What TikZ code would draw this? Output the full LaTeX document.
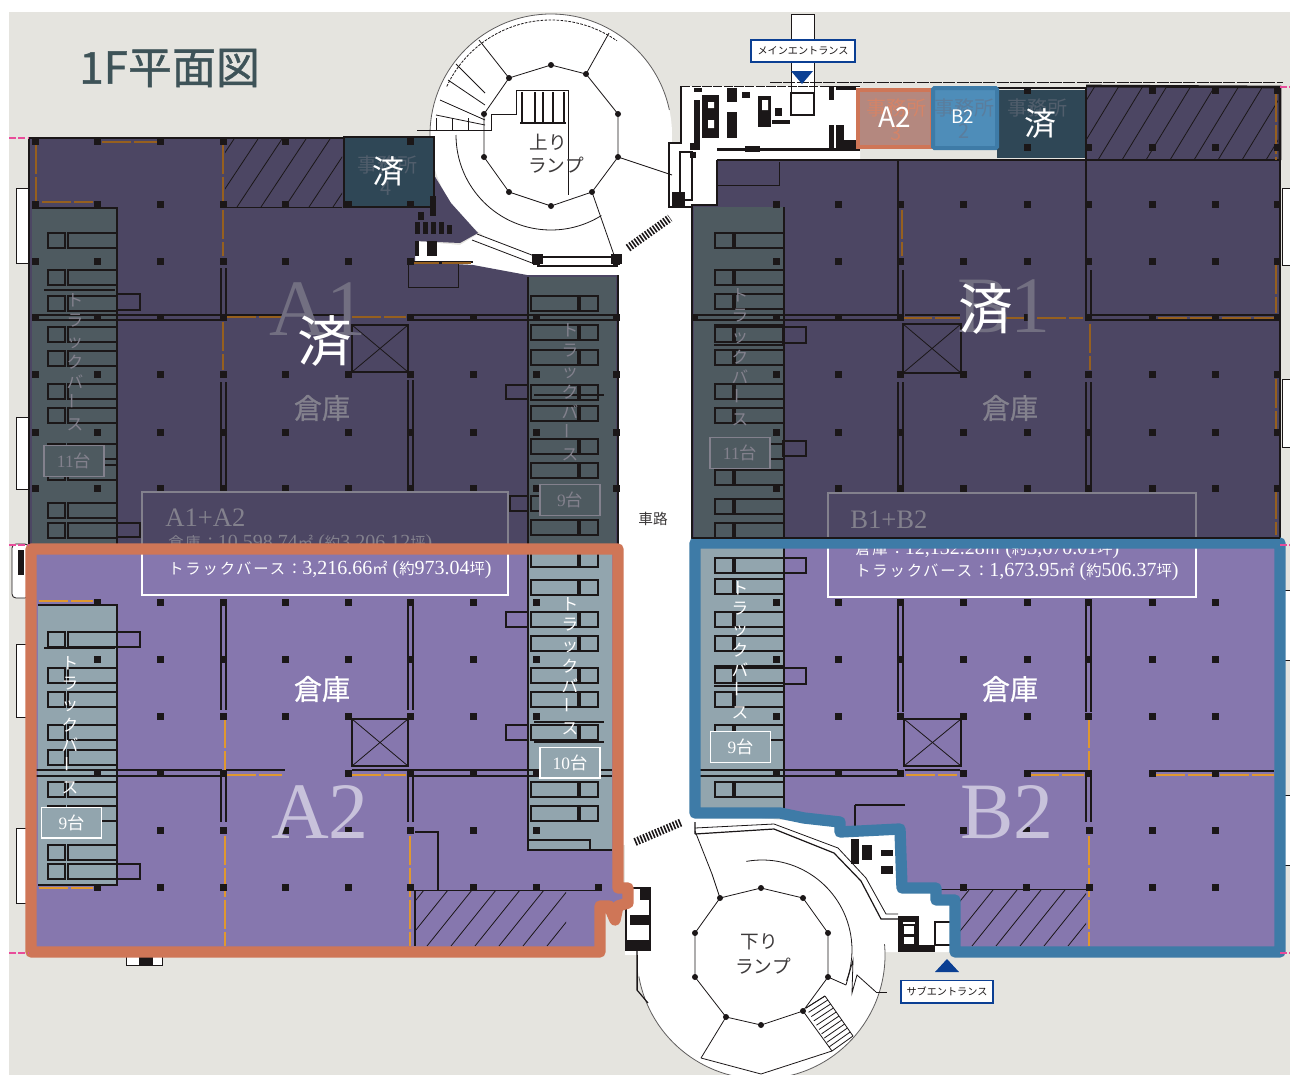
\documentclass[tikz,border=0pt]{standalone}
\usepackage{fontspec}
\setmainfont{Liberation Serif}
\newfontfamily\cjk{Noto Sans CJK JP}
\newfontfamily\cjkheavy[FakeBold=0.9]{Noto Sans CJK JP}
\newfontfamily\cjkwide[LetterSpace=12]{Noto Sans CJK JP}
\definecolor{paper}{HTML}{E5E4DF}
\definecolor{darkplum}{HTML}{4C4663}
\definecolor{darkbay}{HTML}{4E5A60}
\definecolor{lightplum}{HTML}{8677AE}
\definecolor{lightbay}{HTML}{92A5AE}
\definecolor{teal}{HTML}{2F4756}
\definecolor{rust}{HTML}{CF7657}
\definecolor{steel}{HTML}{3E7BA7}
\definecolor{rustfill}{HTML}{B4887F}
\definecolor{steelfill}{HTML}{4E8DB9}
\definecolor{ink}{HTML}{1B1718}
\definecolor{titleink}{HTML}{3E5358}
\definecolor{dimtext}{HTML}{83818D}
\definecolor{amberdark}{HTML}{96601F}
\definecolor{amberlight}{HTML}{E0982F}
\definecolor{navy}{HTML}{0B3F93}
\definecolor{pinkmark}{HTML}{E84C9A}
\usetikzlibrary{shapes.geometric}
% ring of columns, hatch, bays
\newcommand{\hatchzone}[4]{
  \begin{scope}
    \clip (#1,#2) rectangle (#3,#4);
    \foreach \hx in {-60,-36,...,300}
      \draw[thinline] ({#1+\hx},#4) -- ({#1+\hx+45},#2);
  \end{scope}}
\newcommand{\truckword}{ト\\ラ\\ッ\\ク\\バ\\\rotatebox{90}{ー}\\ス}
\newcommand{\kanjismall}[1]{{\cjk\fontsize{11.5}{11.5}\selectfont #1}}
\newcommand{\kanjiwide}[1]{{\cjkwide\fontsize{11.5}{11.5}\selectfont #1}}
\begin{document}
\begin{tikzpicture}[x=0.75pt,y=-0.75pt,
    thinline/.style = {draw=ink,line width=0.6pt},
    wallline/.style = {draw=ink,line width=0.9pt},
    heavyline/.style = {draw=ink,line width=2pt},
    baybox/.style = {draw=ink,line width=0.8pt},
    amberD/.style = {draw=amberdark,line width=1.2pt,dash pattern=on 22pt off 2pt},
    amberL/.style = {draw=amberlight,line width=1.2pt,dash pattern=on 22pt off 2pt},
    colmark/.style = {fill=ink},
    rimline/.style = {line width=8.5pt,line join=round,line cap=round},
    plandot/.style = {draw=ink,line width=6pt,dash pattern=on 1.2pt off 1.2pt},
    roomname/.style = {font=\cjkheavy\fontsize{21}{21}\selectfont},
    unitname/.style = {font=\fontsize{60}{60}\selectfont},
    soldmark/.style = {font=\cjk\fontsize{41}{41}\selectfont,text=white},
    soldsmall/.style = {font=\cjk\fontsize{24}{24}\selectfont,text=white},
    berthname/.style = {font=\cjk\fontsize{12.5}{15.5}\selectfont,align=center,inner sep=0pt},
    countbox/.style = {draw,line width=1pt,minimum width=45pt,minimum height=23pt,inner sep=0pt,
      font=\fontsize{13}{13}\selectfont},
    gatebox/.style = {draw=navy,fill=white,line width=1pt,text=ink,inner sep=0pt,
      font=\cjk\fontsize{7.6}{8}\selectfont},
    officename/.style = {font=\cjk\fontsize{15}{15}\selectfont},
    arealine/.style = {font=\fontsize{15}{15}\selectfont,anchor=west,inner sep=0pt},
  ]
  \useasboundingbox (0,0) rectangle (1290,1075);
  \fill[white] (0,0) rectangle (1290,1075);
  \fill[paper] (9,12) rectangle (1290,1075);

  % ground floor white outline
  \fill[white] (610,150) rectangle (700,845);
  \fill[white] (625,840) rectangle (700,955);
  \fill[white] (669,143) -- (681,143) -- (681,86) -- (860,86) -- (860,165) -- (717,165) -- (717,210) -- (669,210) -- cycle;
  \fill[white] (791,14) rectangle (814,90);
  \fill[white] (478,234) -- (460,245) -- (415,241) -- (415,262) -- (473,265) -- (527,276) -- (620,276) -- (620,225) -- (551,256) -- cycle;
  \fill[white] (690,812) -- (840,825) -- (905,825) -- (905,885) -- (960,895) -- (960,952) -- (880,952) -- (761,900) -- (700,880) -- cycle;
  \foreach \ry/\rh in {188/75,417/72,644/73,828/75}
    \draw[thinline,fill=white] (16,\ry) rectangle (29,{\ry+\rh});
  \draw[thinline,fill=white,rounded corners=3pt] (12,544) rectangle (29,598);
  \fill[ink] (18,550) rectangle (24,575);
  \foreach \ry/\rh in {188/77,379/68,590/70,795/70}
    \draw[thinline,fill=white] (1282,\ry) rectangle (1292,{\ry+\rh});
  \draw[thinline,fill=white] (126,950) rectangle (162,965);
  \fill[ink] (139,952) rectangle (153,965);

  % upper ramp
  \fill[white] (551,135) circle (121);
  \draw[draw=ink!70,line width=0.6pt] (551,135) ++(172:121) arc (172:348:121);
  \draw[draw=ink,line width=0.6pt,dash pattern=on 2pt off 1pt] (551,135) ++(205:115) arc (205:305:115);
  \draw[thinline] (551,135) ++(180:95) arc (180:58:95);
  \foreach \ax/\ay/\bx/\by in {509/78/479/40,586/74/609/33,618/157/672/175,592/192/614/255,
      456/64/485/93,448/80/485/105,440/100/485/120,436/115/485/125}
    \draw[thinline] (\ax,\ay) -- (\bx,\by);
  \draw[thinline] (509,78) -- (551,65) -- (586,74) -- (618,114) -- (618,157) -- (592,192) -- (551,206) -- (509,192) -- (484,157) -- (484,114) -- cycle;
  \foreach \rx/\ry in {551/65,586/74,618/114,618/157,592/192,551/206,509/192,484/157,484/114,509/78}
    \fill[colmark] (\rx,\ry) circle (3);
  \draw[thinline] (417,130) -- (491,130) -- (491,114) -- (516,114) -- (516,90) -- (568,90) -- (568,195);
  \foreach \rx in {522,535,543,553,564}
    \draw[wallline] (\rx,92) -- (\rx,123);
  \draw[wallline] (520,123) -- (566,123);
  \foreach \rx in {436,452,468}
    \draw[thinline] (\rx,118) -- (\rx,130);
  \draw[thinline] (477,234) -- (537,257) (472,240) -- (532,263);
  \draw[wallline] (537,257) -- (618,257) (537,266) -- (618,266);
  \fill[colmark] (532,254) rectangle (543,264);
  \fill[colmark] (611,254) rectangle (622,264);
  \node[font=\cjk\fontsize{14}{14}\selectfont,text=ink!85] (upramp) at (548,142) {上り};
  \node[font=\cjk\fontsize{14}{14}\selectfont,text=ink!85] (upramptwo) at (556,165) {ランプ};
  \draw[plandot] (628,248) -- (670,218);

  % entrance block
  \draw[thinline,dash pattern=on 9pt off 1pt] (770,82) -- (1283,82);
  \draw[thinline,dash pattern=on 7pt off 1pt] (681,86) -- (860,86);
  \draw[wallline] (681,86) -- (681,143) -- (669,143) -- (669,207) -- (692,207);
  \draw[thinline] (791,14) rectangle (814,93);
  \draw[wallline] (791,93) rectangle (814,115);
  \draw[wallline] (717,160) -- (856,160);
  \foreach \ax/\ay/\bx/\by in {702/95/719/138,727/88/737/102,727/112/737/138,758/96/771/127,
      829/86/834/100,829/125/834/148,717/148/860/151,690/143/700/150,672/192/685/207,
      745/146/760/152,836/86/856/90,836/140/856/148,836/125/844/140,694/88/702/92,694/100/700/148,
      742/92/750/98,775/108/782/116,772/120/790/124,690/152/696/158}
    \fill[ink] (\ax,\ay) rectangle (\bx,\by);
  \fill[white] (708,102) rectangle (714,108) (708,120) rectangle (714,128) (762,100) rectangle (768,110);
  \draw[wallline] (680,152) rectangle (692,200);
  \draw[plandot] (635,842) -- (682,822);
  \fill[navy] (791,71) -- (813,71) -- (802,84) -- cycle;
  \node[gatebox,minimum width=78pt,minimum height=16.5pt] (maingate) at (803,51) {メインエントランス};

  % lower ramp
  \fill[white] (761,955) circle (124);
  \begin{scope}
    \clip (0,0) rectangle (1290,1075);
    \draw[draw=ink!70,line width=0.6pt] (761,955) ++(-5:124) arc (-5:170:124);
    \draw[thinline] (762,950) ++(-100:90) arc (-100:20:90);
    \foreach \ax/\ay/\bx/\by in {695/831/712/874,712/874/720/898,803/1011/832/1051,726/1017/701/1058,
        701/1058/761/1074,761/1074/832/1051,828/977/846/985,876/992/887/992,806/1008/825/996,
        825/996/853/1036,853/1036/832/1051,637/955/637/990}
      \draw[thinline] (\ax,\ay) -- (\bx,\by);
    \draw[thinline] (846,985) -- (853,960) -- (852,993) -- (857,975) -- (876,992);
    \foreach \rt in {0,0.1,...,1}
      \draw[thinline] ({806+\rt*26},{1008+\rt*43}) -- ({825+\rt*28},{996+\rt*40});
  \end{scope}
  \draw[thinline] (761,888) -- (803,898) -- (828,933) -- (828,977) -- (803,1011) -- (761,1025) -- (726,1017) -- (695,977) -- (695,933) -- (720,898) -- cycle;
  \foreach \rx/\ry in {761/888,803/898,828/933,828/977,803/1011,761/1025,726/1017,695/977,695/933,720/898}
    \fill[colmark] (\rx,\ry) circle (3);
  \draw[wallline] (695,822) -- (695,834) (695,834) -- (774,829) -- (834,853) -- (861,881) -- (881,919) -- (898,919);
  \draw[thinline] (695,828) -- (774,824) -- (838,848) -- (866,878) -- (886,914) -- (898,914);
  \foreach \ax/\ay/\bx/\by in {851/839/859/864,862/845/872/860,881/850/893/856,881/866/893/874,
      898/916/919/922,898/945/935/952,898/922/903/945,915/922/919/945,626/888/632/900,626/940/650/950,
      640/888/650/900,630/915/650/925}
    \fill[ink] (\ax,\ay) rectangle (\bx,\by);
  \draw[wallline] (903,925) rectangle (915,935) (903,936) rectangle (915,945);
  \draw[wallline] (935,922) rectangle (955,945);
  \draw[wallline] (626,888) rectangle (650,950);
  \draw[wallline] (637,950) -- (637,990) -- (648,1003);
  \node[font=\cjk\fontsize{14}{14}\selectfont,text=ink!85] (downramp) at (759,942) {下り};
  \node[font=\cjk\fontsize{14}{14}\selectfont,text=ink!85] (downramptwo) at (763,966) {ランプ};
  \fill[navy] (947,959) -- (935,972) -- (959,972) -- cycle;
  \node[gatebox,minimum width=69pt,minimum height=17pt] (subgate) at (947,991.5) {サブエントランス};
  \node[font=\cjk\fontsize{11}{11}\selectfont,text=ink!85] (roadway) at (653,519) {車路};

  % unit floors
  \fill[darkplum] (30,138) -- (434,138) -- (434,175) -- (451,203) -- (478,233) -- (460,243) -- (415,241) -- (415,262) -- (473,265) -- (527,275) -- (618,275) -- (618,545) -- (30,545) -- cycle;
  \fill[darkbay] (32,208) rectangle (117,545);
  \fill[darkbay] (528,277) rectangle (616,545);
  \fill[darkplum] (717,160) -- (1280,160) -- (1280,540) -- (692,540) -- (692,205) -- (717,205) -- cycle;
  \fill[darkplum] (1086,86) rectangle (1280,160);
  \fill[darkbay] (694,207) rectangle (784,540);
  \fill[lightplum] (31,549) -- (618,549) -- (618,888) -- (628,888) -- (628,903) -- (617,906) -- (615,920) -- (609,906) -- (600,906) -- (600,952) -- (31,952) -- cycle;
  \fill[lightbay] (38,605) rectangle (117,885);
  \fill[lightbay] (528,549) rectangle (612,850);
  \fill[lightplum] (695,543) -- (1280,543) -- (1280,952) -- (955,952) -- (955,900) -- (936,900) -- (936,888) -- (902,888) -- (900,829) -- (840,832) -- (840,822) -- (804,818) -- (780,813) -- (695,813) -- cycle;
  \fill[lightbay] (698,548) rectangle (784,808);

  % hatched zones
  \hatchzone{225}{139}{342}{207}
  \hatchzone{1086}{86}{1278}{160}
  \hatchzone{415}{890}{566}{946}
  \hatchzone{960}{890}{1086}{946}
  \draw[thinline] (225,207) -- (342,207) (415,890) -- (595,890) (940,889) -- (1086,889);

  % offices
  \fill[teal] (344,137) rectangle (434,207);
  \draw[heavyline] (344,137) rectangle (434,207);
  \fill[teal] (997,90) rectangle (1086,158);
  \draw[heavyline] (997,88) -- (1086,88) -- (1086,160) -- (997,160);
  \draw[heavyline] (1086,86) -- (1280,87) -- (1280,160);
  \draw[heavyline] (29,138) -- (344,138) (29,138) -- (29,545);
  \draw[heavyline] (717,160) -- (1280,160) -- (1280,538) (717,160) -- (717,205) -- (692,205) -- (692,540) (618,275) -- (618,545);
  \draw[heavyline] (898,160) -- (898,270) (1086,160) -- (1086,270);
  \draw[thinline] (779,162) -- (779,185) -- (717,185);
  \fill[rustfill,draw=rust,line width=3pt] (858,90) rectangle (932,147);
  \fill[steelfill,draw=steel,line width=3pt,rounded corners=1pt] (933,88) rectangle (997,148);
  \foreach \ax/\ay/\bx/\by in {408/261/473/263,427/241/437/256,415/241/419/256,
      415/222/420/234,423/222/428/234,431/222/436/234,439/222/444/234,447/225/452/234,418/212/424/220,430/196/436/216}
    \fill[ink] (\ax,\ay) rectangle (\bx,\by);
  \draw[thinline] (408,263) rectangle (458,287);

  % truck berths, left column of the A block
  \foreach \rowy in {233,270,296,327,351,384,408,444,465,503,523,632,668,692,725,750,782,806,845,864}{
    \draw[baybox] (48,\rowy) rectangle (65,{\rowy+15});
    \draw[baybox] (68,\rowy) rectangle (117,{\rowy+15});}
  \foreach \rowy in {296,325,350,385,406,439,463,496,520,552,580,612,636,668,692,725,782,806}{
    \draw[baybox] (531,\rowy) rectangle (578,{\rowy+15});
    \draw[baybox] (580,\rowy) rectangle (598,{\rowy+15});}
  \foreach \rowy in {233,270,294,327,350,384,408,444,470,499,523,558,579,612,636,668,692,725,782}{
    \draw[baybox] (715,\rowy) rectangle (733,{\rowy+15});
    \draw[baybox] (735,\rowy) rectangle (784,{\rowy+15});}
  \foreach \ax/\ay/\bx/\by in {117/294/140/310,117/523/140/537,117/632/140/647,117/864/140/879,
      506/385/528/399,510/496/528/511,506/612/528/627,506/725/528/740,
      783/327/806/343,783/441/806/456,784/558/806/573,784/668/806/684}
    \draw[baybox] (\ax,\ay) rectangle (\bx,\by);
  \foreach \ax/\bx/\hy in {44/115/290,44/115/648,534/604/395,534/604/722,534/604/742,714/784/325,714/784/345,714/784/666,714/784/686}
    \draw[ink,line width=1.6pt] (\ax,\hy) -- (\bx,\hy);
  \draw[baybox] (32,208) -- (117,208) -- (117,545) (38,605) -- (117,605) -- (117,885) -- (38,885);
  \draw[baybox] (528,277) -- (528,545) (528,549) -- (528,850) -- (612,850);
  \draw[baybox] (784,207) -- (784,540) (784,548) -- (784,808);
  \draw[baybox] (528,840) -- (590,840) -- (590,850);

  % partition walls
  \foreach \wx/\wa/\wb in {221/268/315,226/268/315,221/382/488,226/382/488,221/600/710,226/600/710,221/775/822,226/775/822,
      408/380/488,413/380/488,408/600/710,413/600/710,408/775/822,413/775/822,
      898/270/315,903/270/315,898/382/488,903/382/488,898/600/712,903/600/712,
      1086/270/315,1091/270/315,1086/382/488,1091/382/488,1086/600/712,1091/600/712,1086/775/822,1091/775/822}
    \draw[wallline] (\wx,\wa) -- (\wx,\wb);
  \foreach \wy/\wa/\wb in {315/35/222,320/35/222,315/410/616,320/410/616,770/35/222,776/35/222,770/410/612,776/410/612,
      315/692/898,320/692/898,315/1088/1278,320/1088/1278,770/698/898,776/698/898,315/225/345,315/905/960}
    \draw[wallline] (\wa,\wy) -- (\wb,\wy);
  \draw[heavyline] (225,770) -- (285,770) (352,770) -- (410,770);
  \draw[heavyline] (905,770) -- (960,770) (1030,771) -- (1086,771) (1152,771) -- (1274,771);
  \draw[wallline] (415,832) -- (438,832) -- (438,890) (415,890) -- (415,946);
  \draw[wallline] (855,805) -- (905,805) (855,805) -- (855,830);

  % lift shafts
  \foreach \ax/\ay/\bx/\by in {352/325/408/372,352/719/408/766,903/324/961/373,904/719/961/766}{
    \draw[wallline] (\ax,\ay) rectangle (\bx,\by);
    \draw[thinline] (\ax,\ay) -- (\bx,\by) (\ax,\by) -- (\bx,\ay);}

  % amber partitions
  \foreach \ax/\ay/\bx/\by in {102/142/158/142,36/145/36/201,42/202/93/202,223/145/223/203,223/210/223/256,
      227/317/282/317,352/317/406/317,223/322/223/370,410/263/473/263,902/210/902/256,1090/324/1090/370,
      903/318/960/318,1005/318/1083/318,1158/318/1274/318,1276/93/1276/160,1276/265/1276/313,1276/379/1276/430,1276/490/1276/535}
    \draw[amberD] (\ax,\ay) -- (\bx,\by);
  \foreach \ax/\ay/\bx/\by in {39/601/93/601,39/888/93/888,225/719/225/770,225/836/225/946,227/775/282/775,352/775/406/775,
      410/836/410/946,1089/719/1089/770,1089/836/1089/946,906/775/957/775,1030/775/1084/775,1156/775/1274/775}
    \draw[amberL] (\ax,\ay) -- (\bx,\by);

  % columns, A block
  \foreach \cy/\xlist in {141/{35,97,160,223,285,410},204/{35,97,160,223,285,348,410},261/{35,97,160,223,285,348,410,536,616},
      317/{35,97,160,223,410,473,536,616},374/{35,97,160,223,285,348,410,473,536,616},432/{35,97,160,223,285,348,410,473,536,616},
      488/{35,97,160,223,285,348,410,473,536,616},602/{97,160,223,285,348,410,473,536},659/{97,160,223,285,348,410,473,536},
      716/{160,223,285,348,410,473,536},773/{97,160,223,348,410,473,536},830/{160,223,285,348,410,473,536},
      887/{97,160,223,285,348,410,473,536,598}}
    \foreach \cx in \xlist
      \fill[colmark] ({\cx-3.5},{\cy-3.5}) rectangle ({\cx+3.5},{\cy+3.5});
  % columns, B block
  \foreach \cy/\xlist in {90/{1027,1152,1215,1277},147/{1027,1088,1152,1215,1277},204/{776,838,900,963,1027,1088,1152,1215,1277},
      261/{776,838,900,963,1027,1088,1152,1215,1277},317/{694,776,838,900,1027,1088,1152,1215,1277},
      374/{776,838,900,963,1027,1088,1152,1215,1277},432/{776,838,900,963,1027,1088,1152,1215,1277},
      488/{776,838,900,963,1027,1088,1152,1215,1277},602/{776,838,900,963,1027,1088,1152,1215},
      659/{776,838,900,963,1027,1088,1152,1215},716/{776,838,900,963,1027,1088,1152,1215},
      773/{776,838,900,963,1027,1088,1152,1215},830/{963,1026,1089,1152,1215},887/{963,1026,1089,1152,1215}}
    \foreach \cx in \xlist
      \fill[colmark] ({\cx-3.5},{\cy-3.5}) rectangle ({\cx+3.5},{\cy+3.5});

  % area panels
  \draw[draw=dimtext,line width=1.6pt] (142,545) -- (142,492) -- (508,492) -- (508,545);
  \draw[draw=white,line width=1.6pt] (142,548) -- (142,595) -- (508,595) -- (508,548);
  \draw[draw=dimtext,line width=1.6pt] (828,540) -- (828,493) -- (1196,493) -- (1196,540);
  \draw[draw=white,line width=1.6pt] (828,544) -- (828,597) -- (1196,597) -- (1196,544);
  \fill[darkplum] (143,493) rectangle (507,545);
  \fill[darkplum] (829,494) rectangle (1195,540);
  \fill[lightplum] (143,550) rectangle (507,594);
  \fill[lightplum] (829,545) rectangle (1195,596);
  \node[arealine,text=dimtext,font=\fontsize{20}{20}\selectfont] (panelAtitle) at (165,518) {A1+A2};
  \node[arealine,text=dimtext,font=\fontsize{20}{20}\selectfont] (panelBtitle) at (850,520) {B1+B2};
  \node[arealine,text=dimtext] (panelAstore) at (168,544) {\kanjiwide{倉庫：}10,598.74\kanjismall{㎡} (\kanjismall{約}3,206.12\kanjismall{坪})};
  \node[arealine,text=white] (panelAberth) at (168,570) {\kanjiwide{トラックバース：}3,216.66\kanjismall{㎡} (\kanjismall{約}973.04\kanjismall{坪})};
  \node[arealine,text=white] (panelBstore) at (855,550) {\kanjiwide{倉庫：}12,132.28\kanjismall{㎡} (\kanjismall{約}3,670.01\kanjismall{坪})};
  \node[arealine,text=white] (panelBberth) at (855,572) {\kanjiwide{トラックバース：}1,673.95\kanjismall{㎡} (\kanjismall{約}506.37\kanjismall{坪})};

  % unit labels
  \node[unitname,text=dimtext!70!darkplum] (unitAone) at (318,309) {A1};
  \node[unitname,text=dimtext!70!darkplum] (unitBone) at (1004,306) {B1};
  \node[unitname,text=lightplum!45!white] (unitAtwo) at (320,812) {A2};
  \node[unitname,text=lightplum!45!white] (unitBtwo) at (1007,812) {B2};
  \node[roomname,text=dimtext] (storeAone) at (322,408) {倉庫};
  \node[roomname,text=dimtext] (storeBone) at (1010,408) {倉庫};
  \node[roomname,text=white] (storeAtwo) at (322,689) {倉庫};
  \node[roomname,text=white] (storeBtwo) at (1010,689) {倉庫};
  \node[soldmark] (soldAone) at (325,341) {済};
  \node[soldmark] (soldBone) at (986,309) {済};

  \node[officename,text=teal!60!dimtext] (officeFour) at (387,165) {事務所};
  \node[officename,text=teal!60!dimtext] (officeOne) at (1037,108) {事務所};
  \node[officename,text=rust!90!white] (officeThree) at (896,108) {事務所};
  \node[officename,text=steel!60!dimtext] (officeTwo) at (964,108) {事務所};
  \node[officename,text=rust!90!white] (numThree) at (896,133) {3};
  \node[officename,text=steel!60!dimtext] (numTwo) at (964,131) {2};
  \node[officename,text=teal!60!dimtext] (numFour) at (386,188) {4};
  \node[soldsmall] (soldOfficeFour) at (388,171) {済};
  \node[soldsmall] (soldOfficeOne) at (1040,123) {済};
  \node[font=\cjk\fontsize{21}{21}\selectfont,text=white] (unitOfficeA) at (895,117) {A2};
  \node[font=\cjk\fontsize{14}{14}\selectfont,text=white] (unitOfficeB) at (963,117) {B2};

  \node[berthname,text=dimtext] (berthAL) at (75,362) {\truckword};
  \node[berthname,text=dimtext] (berthAR) at (570,392) {\truckword};
  \node[berthname,text=dimtext] (berthBU) at (740,357) {\truckword};
  \node[berthname,text=white] (berthCL) at (70,725) {\truckword};
  \node[berthname,text=white] (berthCR) at (570,666) {\truckword};
  \node[berthname,text=white] (berthBL) at (740,650) {\truckword};

  \node[countbox,draw=dimtext,fill=darkbay,text=dimtext] (countAL) at (74,461) {11{\cjk 台}};
  \node[countbox,draw=dimtext,fill=darkbay,text=dimtext] (countAR) at (570,500) {9{\cjk 台}};
  \node[countbox,draw=dimtext,fill=darkbay,text=dimtext] (countBU) at (740,453) {11{\cjk 台}};
  \node[countbox,draw=white,fill=lightbay,text=white] (countCR) at (570,762.5) {10{\cjk 台}};
  \node[countbox,draw=white,fill=lightbay,text=white] (countCL) at (71.5,822.5) {9{\cjk 台}};
  \node[countbox,draw=white,fill=lightbay,text=white] (countBL) at (740.5,747) {9{\cjk 台}};

  % unit rims
  \draw[rimline,draw=rust] (31,549) -- (618,549) -- (618,888) -- (628,888) -- (628,903) -- (618,906) -- (615,920) -- (609,906) -- (600,906) -- (600,952) -- (31,952) -- cycle;
  \draw[rimline,draw=steel] (695,543) -- (1280,543) -- (1280,952) -- (955,952) -- (955,900) -- (936,900) -- (936,888) -- (902,888) -- (900,829) -- (840,832) -- (840,822) -- (804,818) -- (780,813) -- (695,813) -- cycle;
  \draw[draw=ink,line width=1pt] (692,538) -- (1280,538);

  % survey ticks
  \foreach \ax/\ay/\bx/\by in {9/138/29/138,9/545/29/545,9/953/29/953,1280/87/1290/87,1280/545/1290/545,1280/953/1290/953}
    \draw[draw=pinkmark,line width=1.5pt,dash pattern=on 5pt off 2pt] (\ax,\ay) -- (\bx,\by);

  \node[font=\cjkheavy\fontsize{33}{33}\selectfont,text=titleink,anchor=west,inner sep=0pt] (planTitle) at (79,68) {1F平面図};
\end{tikzpicture}
\end{document}
